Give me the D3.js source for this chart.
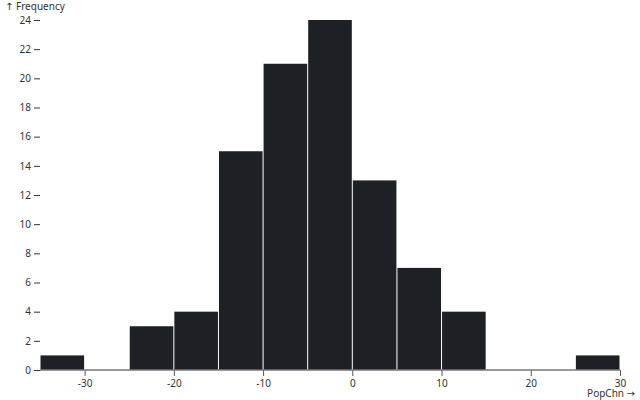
<!DOCTYPE html>
<html><head><meta charset="utf-8">
<script src="https://cdn.jsdelivr.net/npm/d3@7"></script>
<style>body{margin:0;background:#fff}svg{display:block;font-family:"Noto Sans",sans-serif}</style>
</head><body>
<script>
const binStarts = [-35,-30,-25,-20,-15,-10,-5,0,5,10,15,20,25];
const binWidth = 5;
const counts = [1,0,3,4,15,21,24,13,7,4,0,0,1];
const xTicks = [-30,-20,-10,0,10,20,30];
const yTicks = [0,2,4,6,8,10,12,14,16,18,20,22,24];

const W=640,H=400,m={top:20,right:20,bottom:30,left:40};
const svg=d3.select("body").append("svg").attr("width",W).attr("height",H).attr("viewBox",[0,0,W,H]);
const x=d3.scaleLinear().domain([-35,30]).range([m.left,W-m.right]);
const y=d3.scaleLinear().domain([0,24]).range([H-m.bottom,m.top]);

svg.append("g").attr("fill","#1d2025").selectAll("rect")
  .data(binStarts.map((s,i)=>({x0:s,x1:s+binWidth,c:counts[i]})).filter(d=>d.c>0))
  .join("rect")
  .attr("x",d=>x(d.x0)+0.5).attr("width",d=>x(d.x1)-x(d.x0)-1)
  .attr("y",d=>y(d.c)).attr("height",d=>y(0)-y(d.c));

const gx=svg.append("g").attr("transform",`translate(0,${H-m.bottom})`)
  .call(d3.axisBottom(x).tickValues(xTicks).tickFormat(d=>String(d)).tickSize(6).tickPadding(4))
  .call(g=>g.select(".domain").remove());
gx.selectAll("text").attr("font-size",10).attr("fill","#333").attr("font-family","Noto Sans");
gx.selectAll("line").attr("stroke","#555");
const xl=gx.append("text").attr("x",W-5).attr("y",26.5).attr("fill","#333").attr("text-anchor","end")
  .attr("font-size",10).attr("font-family","Noto Sans");
xl.append("tspan").text("PopChn ");
xl.append("tspan").attr("font-family","DejaVu Sans").text("→");

const gy=svg.append("g").attr("transform",`translate(${m.left},0)`)
  .call(d3.axisLeft(y).tickValues(yTicks).tickSize(6).tickPadding(3))
  .call(g=>g.select(".domain").remove());
gy.selectAll("text").attr("font-size",10).attr("fill","#333").attr("font-family","Noto Sans");
gy.selectAll("line").attr("stroke","#333");
const yl=gy.append("text").attr("x",-m.left+5).attr("y",10).attr("fill","#333").attr("text-anchor","start")
  .attr("font-size",10).attr("font-family","Noto Sans");
yl.append("tspan").attr("font-family","DejaVu Sans").text("↑");
yl.append("tspan").text(" Frequency");

svg.append("line").attr("x1",m.left).attr("x2",W-m.right).attr("y1",y(0)).attr("y2",y(0))
  .attr("stroke","#777").attr("stroke-width",1.5);
</script>
</body></html>
